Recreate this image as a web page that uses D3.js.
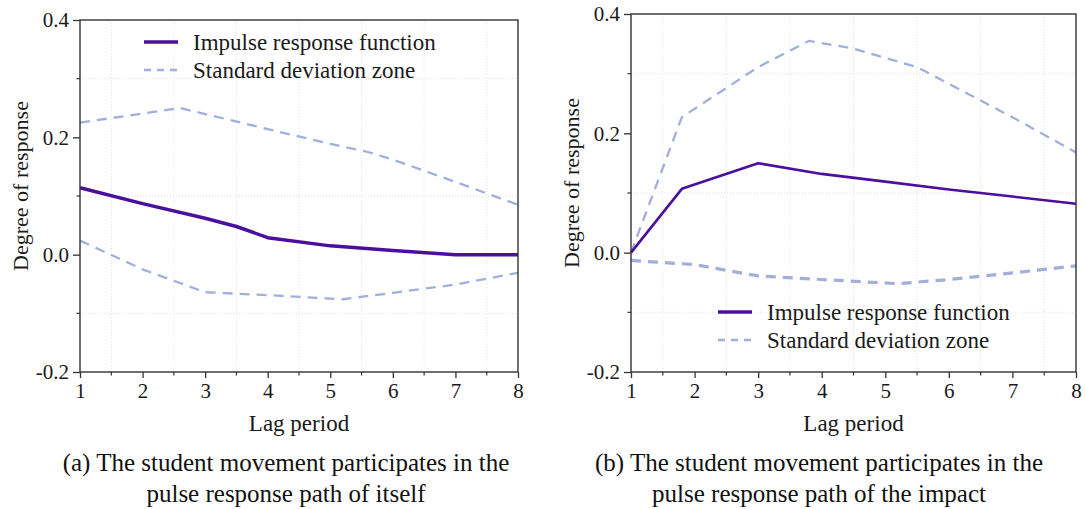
<!DOCTYPE html>
<html>
<head>
<meta charset="utf-8">
<script src="https://cdn.jsdelivr.net/npm/d3@7"></script>
<style>
  body { margin: 0; background: #fff; }
  svg { display: block; font-family: "Liberation Serif", "Times New Roman", serif; }
</style>
</head>
<body>
<div id="chart"></div>
<script>
// panel (a): response of student movement to itself
const lagA_irf = [1, 2, 3, 3.5, 4, 5, 6, 7, 8];
const irfA = [0.114, 0.087, 0.062, 0.048, 0.029, 0.015, 0.007, 0.0, 0.0];
const lagA_up = [1, 2.6, 4, 5, 5.6, 6, 7, 8];
const upperA = [0.225, 0.250, 0.214, 0.189, 0.175, 0.162, 0.124, 0.085];
const lagA_lo = [1, 2, 3, 4, 5.2, 6, 7, 8];
const lowerA = [0.024, -0.025, -0.064, -0.069, -0.076, -0.065, -0.051, -0.031];

// panel (b): response to the impact
const lagB_irf = [1, 1.8, 3, 4, 5, 6, 7, 8];
const irfB = [0.0, 0.107, 0.150, 0.132, 0.119, 0.106, 0.094, 0.082];
const lagB_up = [1, 1.8, 3, 3.8, 4.5, 5.5, 6, 7, 8];
const upperB = [0.0, 0.227, 0.311, 0.355, 0.342, 0.311, 0.283, 0.227, 0.168];
const lagB_lo = [1, 2, 3, 4, 5.2, 6, 7, 8];
const lowerB = [-0.013, -0.020, -0.039, -0.045, -0.052, -0.045, -0.034, -0.022];

const xTicks = [1, 2, 3, 4, 5, 6, 7, 8];
const yTicks = [-0.2, 0.0, 0.2, 0.4];
const legendLabels = ["Impulse response function", "Standard deviation zone"];
const captionA = ["(a) The student movement participates in the", "pulse response path of itself"];
const captionB = ["(b) The student movement participates in the", "pulse response path of the impact"];

const W = 1085, H = 509;
const purple = "#4b0f9e";
const lavender = "#a3aedb";
const ink = "#1a1a1a";

const svg = d3.select("#chart").append("svg")
  .attr("width", W)
  .attr("height", H)
  .attr("viewBox", [0, 0, W, H]);

const zip = (xs, ys) => xs.map((x, i) => [x, ys[i]]);
// plain hyphen for negatives, like the original
const fmtY = d => (d < 0 ? "-" : "") + Math.abs(d).toFixed(1);

const drawPanel = (p) => {
  const x = d3.scaleLinear().domain([1, 8]).range([p.left, p.right]);
  const y = d3.scaleLinear().domain([-0.2, 0.4]).range([p.bottom, p.top]);
  const g = svg.append("g");

  // faint dotted grid on the minor positions
  const xMinor = d3.range(1.5, 8, 1);
  const yMinor = [-0.1, 0.1, 0.3];
  g.append("g")
    .attr("stroke", "#d8d8d8")
    .attr("stroke-width", 0.8)
    .attr("stroke-dasharray", "1,2")
    .call(g => g.selectAll(".gx").data(xMinor).join("line")
      .attr("x1", d => x(d)).attr("x2", d => x(d))
      .attr("y1", p.top).attr("y2", p.bottom))
    .call(g => g.selectAll(".gy").data(yMinor).join("line")
      .attr("x1", p.left).attr("x2", p.right)
      .attr("y1", d => y(d)).attr("y2", d => y(d)));

  const line = d3.line().x(d => x(d[0])).y(d => y(d[1]));

  g.append("path")
    .datum(zip(p.lagUp, p.upper))
    .attr("fill", "none")
    .attr("stroke", lavender)
    .attr("stroke-width", 2.3)
    .attr("stroke-dasharray", "10,7")
    .attr("d", line);
  g.append("path")
    .datum(zip(p.lagLo, p.lower))
    .attr("fill", "none")
    .attr("stroke", lavender)
    .attr("stroke-width", p.lowWidth)
    .attr("stroke-dasharray", "10,7")
    .attr("d", line);
  g.append("path")
    .datum(zip(p.lagIrf, p.irf))
    .attr("fill", "none")
    .attr("stroke", purple)
    .attr("stroke-width", p.irfWidth)
    .attr("stroke-linejoin", "round")
    .attr("d", line);

  // frame
  g.append("rect")
    .attr("x", p.left).attr("y", p.top)
    .attr("width", p.right - p.left).attr("height", p.bottom - p.top)
    .attr("fill", "none")
    .attr("stroke", "#333")
    .attr("stroke-width", 1.4);

  // minor ticks
  g.append("g")
    .attr("stroke", "#333")
    .attr("stroke-width", 1.2)
    .call(g => g.selectAll(".mx").data(xMinor).join("line")
      .attr("x1", d => x(d)).attr("x2", d => x(d))
      .attr("y1", p.bottom).attr("y2", p.bottom + 3.5))
    .call(g => g.selectAll(".my").data(yMinor).join("line")
      .attr("x1", p.left - 3.5).attr("x2", p.left)
      .attr("y1", d => y(d)).attr("y2", d => y(d)));

  const xAxis = g.append("g")
    .attr("transform", `translate(0,${p.bottom})`)
    .call(d3.axisBottom(x).tickValues(xTicks).tickFormat(d3.format("d")).tickSize(6).tickPadding(5))
    .call(g => g.select(".domain").remove());
  const yAxis = g.append("g")
    .attr("transform", `translate(${p.left},0)`)
    .call(d3.axisLeft(y).tickValues(yTicks).tickFormat(fmtY).tickSize(7).tickPadding(4))
    .call(g => g.select(".domain").remove());
  [xAxis, yAxis].forEach(a => {
    a.selectAll("line").attr("stroke", "#333").attr("stroke-width", 1.3);
    a.selectAll("text").attr("font-size", 21).attr("fill", ink)
      .style("font-family", "Liberation Serif");
  });

  const mid = (p.left + p.right) / 2;
  g.append("text")
    .attr("x", mid).attr("y", 431)
    .attr("text-anchor", "middle")
    .attr("font-size", 23)
    .attr("fill", ink)
    .text("Lag period");

  g.append("text")
    .attr("transform", `translate(${p.left - 52},${(p.top + p.bottom) / 2 - 10}) rotate(-90)`)
    .attr("text-anchor", "middle")
    .attr("font-size", 22)
    .attr("fill", ink)
    .text("Degree of response");

  // legend
  const lg = g.append("g").attr("transform", `translate(${p.legX},${p.legY})`);
  lg.append("line").attr("x1", 0).attr("x2", 34).attr("y1", 0).attr("y2", 0)
    .attr("stroke", purple).attr("stroke-width", 3.5);
  lg.append("line").attr("x1", 0).attr("x2", 34).attr("y1", 28).attr("y2", 28)
    .attr("stroke", lavender).attr("stroke-width", 2.3).attr("stroke-dasharray", "7,6");
  lg.selectAll("text").data(legendLabels).join("text")
    .attr("x", 49)
    .attr("y", (d, i) => i * 28 + 8)
    .attr("font-size", 23)
    .attr("fill", ink)
    .text(d => d);

  // caption
  g.selectAll(".cap").data(p.caption).join("text")
    .attr("x", p.capX)
    .attr("y", (d, i) => 471 + i * 31)
    .attr("text-anchor", "middle")
    .attr("font-size", 25)
    .attr("fill", "#111")
    .text(d => d);
};

drawPanel({
  left: 80, right: 518, top: 20, bottom: 372,
  lagIrf: lagA_irf, irf: irfA, lagUp: lagA_up, upper: upperA, lagLo: lagA_lo, lower: lowerA,
  irfWidth: 3.5, lowWidth: 2.3,
  legX: 144, legY: 42,
  caption: captionA, capX: 286
});

drawPanel({
  left: 631, right: 1076, top: 14, bottom: 372,
  lagIrf: lagB_irf, irf: irfB, lagUp: lagB_up, upper: upperB, lagLo: lagB_lo, lower: lowerB,
  irfWidth: 2.6, lowWidth: 3.2,
  legX: 718, legY: 312,
  caption: captionB, capX: 819
});
</script>
</body>
</html>
